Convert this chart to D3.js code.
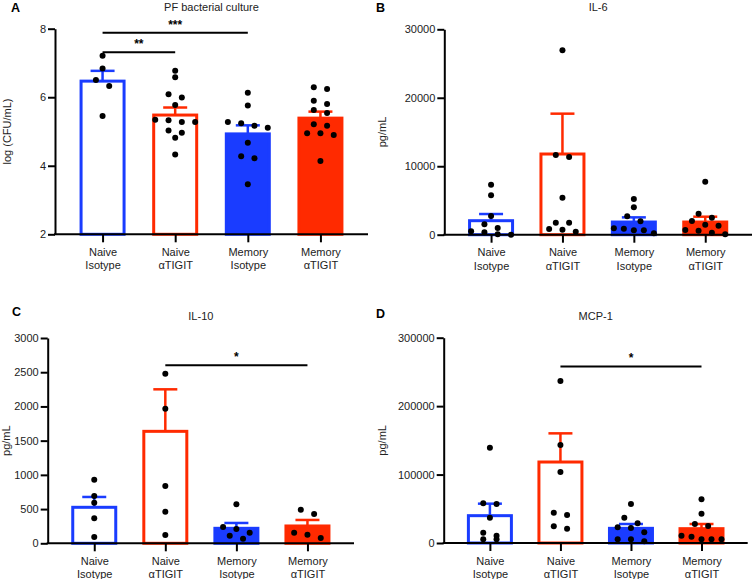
<!DOCTYPE html>
<html>
<head>
<meta charset="utf-8">
<script src="https://cdn.jsdelivr.net/npm/d3@7"></script>
<style>
  body { margin: 0; background: #fff; }
  svg { display: block; font-family: "Liberation Sans", Arial, sans-serif; }
  .axis path, .axis line { stroke: #000; stroke-width: 2; }
  .axis text { font-size: 11px; fill: #222; }
</style>
</head>
<body>
<svg width="753" height="579"></svg>
<script>
// group labels (two lines each)
var groupLines = [["Naive", "Isotype"], ["Naive", "\u03b1TIGIT"], ["Memory", "Isotype"], ["Memory", "\u03b1TIGIT"]];

// A - PF bacterial culture, log(CFU/mL)
var cfuMean = [6.47, 5.48, 4.93, 5.39];
var cfuSem = [0.30, 0.22, 0.25, 0.19];
var cfuPoints = [
  [7.21, 6.84, 6.50, 6.33, 5.45],
  [6.77, 6.58, 6.09, 5.99, 5.77, 5.34, 5.33, 5.28, 5.28, 5.03, 4.96, 4.82, 4.33],
  [6.13, 5.76, 5.28, 5.24, 5.17, 5.11, 4.67, 4.28, 4.22, 3.46],
  [6.29, 6.24, 5.90, 5.80, 5.63, 5.54, 5.21, 5.17, 4.95, 4.95, 4.90, 4.14]
];
var cfuTicks = [2, 4, 6, 8];
var cfuSig = [{ a: 0, b: 1, y: 7.31, label: "**" }, { a: 0, b: 2, y: 7.88, label: "***" }];

// B - IL-6, pg/mL
var il6Mean = [2045, 11785, 1850, 1850];
var il6Sem = [975, 5893, 682, 780];
var il6Points = [
  [7303, 5755, 2731, 1519, 979, 496, 350, 58, 0],
  [26931, 11639, 11347, 5404, 1753, 1753, 833, 730, 438],
  [5214, 4002, 2687, 1957, 935, 876, 643, 643, 204],
  [7741, 3067, 2483, 2001, 1461, 1315, 686, 584, 292, 58]
];
var il6Ticks = [0, 10000, 20000, 30000];

// C - IL-10, pg/mL
var il10Mean = [526, 1636, 219, 253];
var il10Sem = [151, 614, 78, 88];
var il10Points = [
  [930, 691, 593, 365, 92],
  [2479, 1967, 837, 462, 121],
  [570, 238, 209, 155, 111, 67],
  [491, 428, 155, 126, 77]
];
var il10Ticks = [0, 500, 1000, 1500, 2000, 2500, 3000];
var il10Sig = [{ a: 1, b: 3, y: 2600, label: "*" }];

// D - MCP-1, pg/mL
var mcpMean = [39934, 118341, 21428, 20941];
var mcpSem = [17532, 41882, 6331, 6818];
var mcpPoints = [
  [139260, 58014, 56991, 36971, 15051, 10668, 5407, 5407],
  [236682, 143178, 103731, 44277, 40916, 24404, 20897],
  [56991, 36971, 28788, 22942, 21920, 15636, 5407, 5407, 2484],
  [63859, 42816, 27765, 24842, 10668, 9206, 5407, 5407, 5407]
];
var mcpTicks = [0, 100000, 200000, 300000];
var mcpSig = [{ a: 1, b: 3, y: 258000, label: "*" }];

var blue = "#1a3cff", red = "#ff2a00";
var colors = [blue, red, blue, red];
var filled = [false, false, true, true];

var svg = d3.select("svg");

function drawPanel(p) {
  var g = svg.append("g");
  var idx = d3.range(4);

  var x = d3.scalePoint().domain(idx).range([p.x0, p.x1]).padding(0.655);
  var y = d3.scaleLinear().domain(p.domain).range([p.yBottom, p.yTop]);
  var barW = 43;

  // bars
  g.selectAll(".bar").data(idx).enter().append("rect")
    .attr("x", function (i) { return x(i) - barW / 2; })
    .attr("y", function (i) { return y(p.mean[i]); })
    .attr("width", barW)
    .attr("height", function (i) { return y(p.domain[0]) - y(p.mean[i]); })
    .style("fill", function (i) { return filled[i] ? colors[i] : "none"; })
    .style("stroke", function (i) { return colors[i]; })
    .style("stroke-width", 3);

  // error bars (upper only)
  var eb = g.selectAll(".err").data(idx).enter().append("g");
  eb.append("line")
    .attr("x1", function (i) { return x(i); }).attr("x2", function (i) { return x(i); })
    .attr("y1", function (i) { return y(p.mean[i]); })
    .attr("y2", function (i) { return y(p.mean[i] + p.sem[i]); })
    .style("stroke", function (i) { return colors[i]; }).style("stroke-width", 2.5);
  eb.append("line")
    .attr("x1", function (i) { return x(i) - 12; }).attr("x2", function (i) { return x(i) + 12; })
    .attr("y1", function (i) { return y(p.mean[i] + p.sem[i]); })
    .attr("y2", function (i) { return y(p.mean[i] + p.sem[i]); })
    .style("stroke", function (i) { return colors[i]; }).style("stroke-width", 2.5);

  // axes
  g.append("g").attr("class", "axis")
    .attr("transform", "translate(" + p.x0 + ",0)")
    .call(d3.axisLeft(y).tickValues(p.ticks).tickSize(7).tickSizeOuter(0).tickPadding(2).tickFormat(d3.format("d")));

  var xa = g.append("g").attr("class", "axis")
    .attr("transform", "translate(0," + p.yBottom + ")")
    .call(d3.axisBottom(x).tickSize(8).tickSizeOuter(0).tickFormat(""));
  xa.select(".domain").attr("d", "M" + (p.x0 - 1) + ",0H" + p.x1);
  xa.selectAll(".tick text").each(function (i) {
    var t = d3.select(this).attr("y", 0).attr("dy", null);
    groupLines[i].forEach(function (s, k) {
      t.append("tspan").attr("x", 0).attr("y", 21.5 + k * 13.5).text(s);
    });
  });

  // dots: group into rows, spread each row symmetrically
  idx.forEach(function (i) {
    var pts = p.points[i].slice().sort(function (a, b) { return b - a; });
    var rows = [], cur = null;
    pts.forEach(function (v) {
      var py = y(v);
      if (cur && py - cur.start < 6) cur.items.push(py);
      else { cur = { start: py, items: [py] }; rows.push(cur); }
    });
    var pos = [];
    rows.forEach(function (r) {
      var n = r.items.length;
      var sp = n > 1 ? Math.min(13.3, 40 / (n - 1)) : 0;
      r.items.forEach(function (py, k) {
        pos.push({ cx: x(i) + (k - (n - 1) / 2) * sp, cy: py });
      });
    });
    g.selectAll(null).data(pos).enter().append("circle")
      .attr("cx", function (d) { return d.cx; })
      .attr("cy", function (d) { return d.cy; })
      .attr("r", 3)
      .style("fill", "#000");
  });

  // significance brackets
  (p.sig || []).forEach(function (s) {
    g.append("line")
      .attr("x1", x(s.a)).attr("x2", x(s.b))
      .attr("y1", y(s.y)).attr("y2", y(s.y))
      .style("stroke", "#000").style("stroke-width", 2);
    g.append("text")
      .attr("x", (x(s.a) + x(s.b)) / 2).attr("y", y(s.y) - 4)
      .attr("text-anchor", "middle")
      .style("font-size", "12px").style("font-weight", "bold")
      .text(s.label);
  });

  // title, y label, panel letter
  g.append("text")
    .attr("x", (p.x0 + p.x1) / 2).attr("y", p.yTop - 18)
    .attr("text-anchor", "middle").style("font-size", "11px").style("fill", "#222")
    .text(p.title);
  g.append("text")
    .attr("transform", "translate(" + p.labelX + "," + (p.yTop + p.yBottom) / 2 + ") rotate(-90)")
    .attr("text-anchor", "middle").style("font-size", "11px").style("fill", "#222")
    .text(p.yLabel);
  g.append("text")
    .attr("x", p.letterX).attr("y", p.letterY)
    .style("font-size", "12.5px").style("font-weight", "900")
    .text(p.letter);
}

drawPanel({ letter: "A", letterX: 11, letterY: 11.5, title: "PF bacterial culture", yLabel: "log (CFU/mL)", labelX: 11,
  x0: 55, x1: 368, yTop: 28.7, yBottom: 234.3, domain: [2, 8], ticks: cfuTicks,
  mean: cfuMean, sem: cfuSem, points: cfuPoints, sig: cfuSig });
drawPanel({ letter: "B", letterX: 376, letterY: 11.5, title: "IL-6", yLabel: "pg/mL", labelX: 386,
  x0: 444.3, x1: 752, yTop: 29.3, yBottom: 234.7, domain: [0, 30000], ticks: il6Ticks,
  mean: il6Mean, sem: il6Sem, points: il6Points });
drawPanel({ letter: "C", letterX: 12, letterY: 316, title: "IL-10", yLabel: "pg/mL", labelX: 10,
  x0: 47.7, x1: 354, yTop: 338, yBottom: 543.3, domain: [0, 3000], ticks: il10Ticks,
  mean: il10Mean, sem: il10Sem, points: il10Points, sig: il10Sig });
drawPanel({ letter: "D", letterX: 376, letterY: 318, title: "MCP-1", yLabel: "pg/mL", labelX: 386,
  x0: 443.7, x1: 747.7, yTop: 337.7, yBottom: 543, domain: [0, 300000], ticks: mcpTicks,
  mean: mcpMean, sem: mcpSem, points: mcpPoints, sig: mcpSig });
</script>
</body>
</html>
